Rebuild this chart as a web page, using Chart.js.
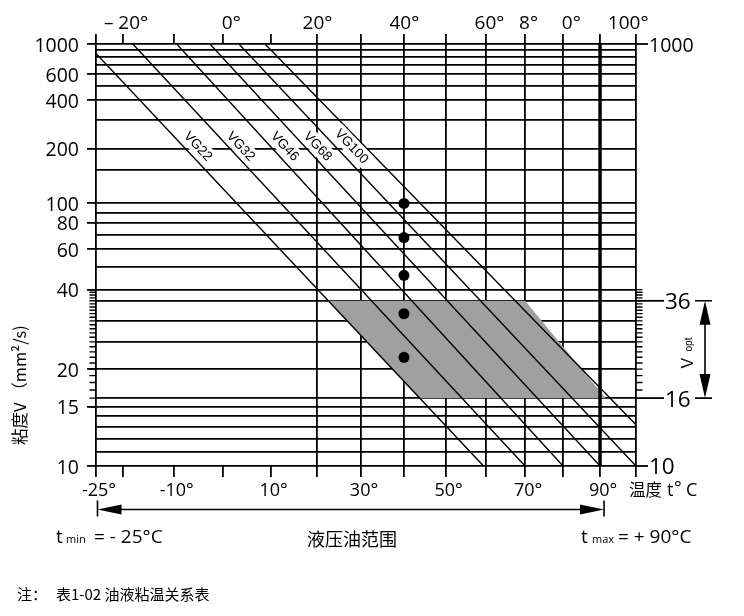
<!DOCTYPE html>
<html><head><meta charset="utf-8">
<script src="https://cdn.jsdelivr.net/npm/chart.js@4.4.1/dist/chart.umd.min.js"></script>
<style>html,body{margin:0;padding:0;background:#fff;}#wrap{width:744px;height:616px;position:relative;}canvas{display:block;}</style>
</head><body><div id="wrap"><canvas id="c" width="744" height="616"></canvas></div>
<script>
// ---------- data ----------
const xTickTemps = [-25, -20, -10, 0, 10, 20, 30, 40, 50, 60, 70, 80, 90, 100];
const xGridTemps = [-25, 20, 30, 40, 50, 60, 70, 80, 90, 100];
const bottomLabelTemps = [-25, -10, 10, 30, 50, 70, 90];
const bottomLabels = ['-25°', '-10°', '10°', '30°', '50°', '70°', '90°'];
const topLabelTemps = [-19.3, 1.7, 20.2, 40.1, 60.9, 70.9, 82.2, 97.8];
const topLabels = ['– 20°', '0°', '20°', '40°', '60°', '8°', '0°', '100°'];

const yGridVisc = [1000, 900, 800, 700, 600, 500, 400, 300, 200, 150, 100, 90, 80, 70, 60, 50, 40, 36, 30, 25, 20, 16, 15, 14, 13, 12, 11, 10];
const yLabelVisc = [1000, 600, 400, 200, 100, 80, 60, 40, 20, 15, 10];
const rightLabelVisc = [1000, 36, 16, 10];
const minorLeftVisc = [15, 16, 17, 18, 19, 20, 21, 22, 23, 24, 25, 26, 27, 28, 29, 30, 31, 32, 33, 34, 35, 36, 37, 38, 39, 40];
const minorRightVisc = [17, 18, 19, 20, 21, 22, 23, 24, 25, 26, 27, 28, 29, 30, 31, 32, 33, 34, 35, 36, 37, 38, 39, 40];

const gradeNames = ['VG22', 'VG32', 'VG46', 'VG68', 'VG100'];
const gradeLabelTemp = [-5.1, 3.7, 13.1, 20.3, 27.9];
const gradeLabelVisc = [206, 206, 206, 206, 206];

const bandStartTemp = [-25, -18, -9.4, -2.7, 3.3, 8.8];
const bandStartVisc = [850, 1000, 1000, 1000, 1000, 1000];
const bandEndTemp = [59.4, 70, 80, 90, 100, 100];
const bandEndVisc = [10, 10, 10, 10, 10, 13.2];

const pointTemp = [40, 40, 40, 40, 40];
const pointVisc = [100, 68, 46, 32, 22];

const optTemp = [22.6, 70, 91.5, 43.5];
const optVisc = [36, 36, 16, 16];

const tMin = -25, tMax = 90;
const maxLineTemp = [90, 90];
const maxLineVisc = [10, 1000];

// ---------- chart transforms (Walther chart: log T(K), log log (v+0.7)) ----------
const tx = t => Math.log10(t + 273.15);
const wy = v => Math.log10(Math.log10(v + 0.7));

function hasFont(name) {
  const c = document.createElement('canvas').getContext('2d');
  c.font = '40px monospace';
  const a = c.measureText('0123456789abcxyz').width;
  c.font = '40px "' + name + '", monospace';
  const b = c.measureText('0123456789abcxyz').width;
  return Math.abs(a - b) > 0.5;
}
const narrowOK = hasFont('Liberation Sans Narrow');
const narrowFam = narrowOK ? '"Liberation Sans Narrow"' : '"Open Sans"';
const narrowSize = narrowOK ? 20 : 18;
const CJK = '"Noto Sans CJK SC", "Noto Sans", sans-serif';
const NUM = '"Open Sans", "Liberation Sans", sans-serif';

const datasets = [];
datasets.push({
  type: 'line', data: pointTemp.map((t, i) => ({x: tx(t), y: wy(pointVisc[i])})),
  showLine: false, pointRadius: 5.5, pointBackgroundColor: '#000', pointBorderWidth: 0, borderColor: '#000'
});
datasets.push({
  type: 'line', data: maxLineTemp.map((t, i) => ({x: tx(t), y: wy(maxLineVisc[i])})),
  showLine: true, borderColor: '#000', borderWidth: 3.5, pointRadius: 0, fill: false
});
bandStartTemp.forEach((t, i) => {
  datasets.push({
    type: 'line',
    data: [{x: tx(t), y: wy(bandStartVisc[i])}, {x: tx(bandEndTemp[i]), y: wy(bandEndVisc[i])}],
    showLine: true, borderColor: '#000', borderWidth: 1.4, pointRadius: 0, fill: false
  });
});
const shadePts = optTemp.map((t, i) => ({x: tx(t), y: wy(optVisc[i])}));
shadePts.push(shadePts[0]);
datasets.push({
  type: 'line', data: shadePts, showLine: true, borderWidth: 0, borderColor: 'rgba(0,0,0,0)',
  backgroundColor: '#a0a0a0', fill: 'shape', pointRadius: 0
});

function txt(ctx, s, x, y, font, align, base) {
  ctx.font = font; ctx.textAlign = align || 'left'; ctx.textBaseline = base || 'middle';
  ctx.fillText(s, x, y);
}

const extras = {
  id: 'extras',
  afterDraw(chart) {
    const ctx = chart.ctx, xs = chart.scales.x, ys = chart.scales.y, ca = chart.chartArea;
    const P = t => xs.getPixelForValue(tx(t));
    const Q = v => ys.getPixelForValue(wy(v));
    ctx.save();
    ctx.fillStyle = '#000'; ctx.strokeStyle = '#000';

    // minor ticks
    ctx.lineWidth = 1.4;
    ctx.beginPath();
    minorLeftVisc.forEach(v => { const y = Q(v); ctx.moveTo(ca.left - 6.5, y); ctx.lineTo(ca.left, y); });
    minorRightVisc.forEach(v => { const y = Q(v); ctx.moveTo(ca.right, y); ctx.lineTo(ca.right + 6.5, y); });
    ctx.stroke();

    // right axis ticks and labels
    ctx.lineWidth = 1.8;
    rightLabelVisc.forEach(v => {
      const y = Q(v);
      const len = (v === 36 || v === 16) ? 28 : 12;
      ctx.beginPath(); ctx.moveTo(ca.right, y); ctx.lineTo(ca.right + len, y); ctx.stroke();
      const size = v === 1000 ? 19.5 : 22.5;
      txt(ctx, String(v), ca.right + len + 1, y + 2, size + 'px ' + NUM, 'left', 'middle');
    });

    // V opt arrow
    const ax = ca.right + 69, yTop = Q(36), yBot = Q(16);
    ctx.lineWidth = 1.6;
    ctx.beginPath();
    ctx.moveTo(ax - 10, yTop); ctx.lineTo(ax + 7, yTop);
    ctx.moveTo(ax - 10, yBot); ctx.lineTo(ax + 7, yBot);
    ctx.moveTo(ax, yTop + 10); ctx.lineTo(ax, yBot - 10);
    ctx.stroke();
    ctx.beginPath();
    ctx.moveTo(ax, yTop); ctx.lineTo(ax - 5.5, yTop + 24); ctx.lineTo(ax + 5.5, yTop + 24); ctx.closePath();
    ctx.moveTo(ax, yBot); ctx.lineTo(ax - 5.5, yBot - 24); ctx.lineTo(ax + 5.5, yBot - 24); ctx.closePath();
    ctx.fill();
    ctx.save();
    ctx.translate(ca.right + 57, (yTop + yBot) / 2 + 19);
    ctx.rotate(-Math.PI / 2);
    txt(ctx, 'V', 0, 0, '16px "Liberation Sans", sans-serif', 'left', 'alphabetic');
    txt(ctx, 'opt', 17, -1, '10px "Liberation Sans", sans-serif', 'left', 'alphabetic');
    ctx.restore();

    // top labels
    topLabels.forEach((s, i) => txt(ctx, s, P(topLabelTemps[i]), 24, '19px ' + NUM, 'center', 'middle'));

    // grade labels on white boxes
    gradeNames.forEach((s, i) => {
      const x = P(gradeLabelTemp[i]), y = Q(gradeLabelVisc[i]);
      const a1 = Math.atan2(Q(bandEndVisc[i]) - Q(bandStartVisc[i]), P(bandEndTemp[i]) - P(bandStartTemp[i]));
      const a2 = Math.atan2(Q(bandEndVisc[i + 1]) - Q(bandStartVisc[i + 1]), P(bandEndTemp[i + 1]) - P(bandStartTemp[i + 1]));
      const ang = (a1 + a2) / 2;
      const f = '13.5px "Liberation Sans", Arial, sans-serif';
      ctx.save();
      ctx.translate(x, y); ctx.rotate(ang);
      ctx.font = f;
      const w = ctx.measureText(s).width;
      ctx.fillStyle = '#fff';
      ctx.fillRect(-w / 2 - 2, -8.5, w + 4, 17);
      ctx.fillStyle = '#000';
      txt(ctx, s, 0, 0.5, f, 'center', 'middle');
      ctx.restore();
    });

    // y-axis title
    ctx.save();
    ctx.translate(20, 385); ctx.rotate(-Math.PI / 2);
    txt(ctx, '粘度V （mm²/s)', 0, 0, '16.5px ' + CJK, 'center', 'middle');
    ctx.restore();

    // temperature axis title
    txt(ctx, '温度', 629, 490, '16.5px ' + CJK, 'left', 'middle');
    txt(ctx, 't', 667, 491, narrowSize + 'px ' + narrowFam, 'left', 'middle');
    txt(ctx, '°', 674, 489, narrowSize + 'px ' + narrowFam, 'left', 'middle');
    txt(ctx, 'C', 686, 491, narrowSize + 'px ' + narrowFam, 'left', 'middle');

    // range arrow
    const ay = 509.5, xl = P(tMin) + 1.5, xr = P(tMax) + 4;
    ctx.lineWidth = 1.6;
    ctx.beginPath();
    ctx.moveTo(xl, ay - 9); ctx.lineTo(xl, ay + 7);
    ctx.moveTo(xr, ay - 9); ctx.lineTo(xr, ay + 7);
    ctx.moveTo(xl + 20, ay); ctx.lineTo(xr - 20, ay);
    ctx.stroke();
    ctx.beginPath();
    ctx.moveTo(xl, ay); ctx.lineTo(xl + 24, ay - 5); ctx.lineTo(xl + 24, ay + 5); ctx.closePath();
    ctx.moveTo(xr, ay); ctx.lineTo(xr - 24, ay - 5); ctx.lineTo(xr - 24, ay + 5); ctx.closePath();
    ctx.fill();

    const big = narrowOK ? '21px "Liberation Sans Narrow"' : '19px "Open Sans"';
    const small = narrowOK ? '12px "Liberation Sans Narrow"' : '11px "Open Sans"';
    txt(ctx, 't', 56, 543, big, 'left', 'alphabetic');
    txt(ctx, 'min', 66, 543, small, 'left', 'alphabetic');
    txt(ctx, '= - 25°C', 94, 543, big, 'left', 'alphabetic');
    txt(ctx, 't', 581, 543, big, 'left', 'alphabetic');
    txt(ctx, 'max', 592, 543, small, 'left', 'alphabetic');
    txt(ctx, '= + 90°C', 618, 543, big, 'left', 'alphabetic');
    txt(ctx, '液压油范围', 352, 539, '18px ' + CJK, 'center', 'middle');

    // note
    txt(ctx, '注：', 17, 594, '15px ' + CJK, 'left', 'middle');
    txt(ctx, '表1-02 油液粘温关系表', 56, 594, '15px ' + CJK, 'left', 'middle');
    ctx.restore();
  }
};

new Chart(document.getElementById('c'), {
  type: 'scatter',
  data: {datasets},
  options: {
    responsive: false, maintainAspectRatio: false, animation: false, events: [],
    layout: {padding: {left: 0, right: 108, top: 0, bottom: 0}},
    plugins: {legend: {display: false}, tooltip: {enabled: false}},
    scales: {
      x: {
        type: 'linear', position: 'bottom', min: tx(-25), max: tx(100), z: 1,
        afterBuildTicks: s => { s.ticks = xTickTemps.map(t => ({value: tx(t)})); },
        afterFit: s => { s.height = 150; },
        border: {display: false},
        grid: {
          color: c => xGridTemps.includes(xTickTemps[c.index]) ? '#000' : 'rgba(0,0,0,0)',
          tickColor: '#000', lineWidth: 1.8, tickWidth: 1.8, tickLength: 11
        },
        ticks: {
          autoSkip: false, maxRotation: 0, padding: 3, labelOffset: 3, color: '#000',
          font: {family: narrowFam.replace(/"/g, ''), size: narrowSize},
          callback: (v, i) => { const k = bottomLabelTemps.indexOf(xTickTemps[i]); return k >= 0 ? bottomLabels[k] : ''; }
        }
      },
      x2: {
        type: 'linear', position: 'top', min: tx(-25), max: tx(100), z: 1,
        afterBuildTicks: s => { s.ticks = xTickTemps.map(t => ({value: tx(t)})); },
        afterFit: s => { s.height = 44; },
        border: {display: false},
        grid: {drawOnChartArea: false, color: '#000', tickColor: '#000', lineWidth: 1.8, tickWidth: 1.8, tickLength: 10},
        ticks: {display: false}
      },
      y: {
        type: 'linear', position: 'left', min: wy(10), max: wy(1000), z: 1,
        afterBuildTicks: s => { s.ticks = yGridVisc.map(v => ({value: wy(v)})); },
        afterFit: s => { s.width = 96; },
        border: {display: false},
        grid: {
          color: '#000', lineWidth: 1.8, tickWidth: 1.8, tickLength: 9,
          tickColor: c => yLabelVisc.includes(yGridVisc[c.index]) ? '#000' : 'rgba(0,0,0,0)'
        },
        ticks: {
          autoSkip: false, padding: 8, labelOffset: 2, color: '#000',
          font: {family: 'Open Sans', size: 19.5},
          callback: (v, i) => yLabelVisc.includes(yGridVisc[i]) ? String(yGridVisc[i]) : ''
        }
      }
    }
  },
  plugins: [extras]
});
</script>
</body></html>
